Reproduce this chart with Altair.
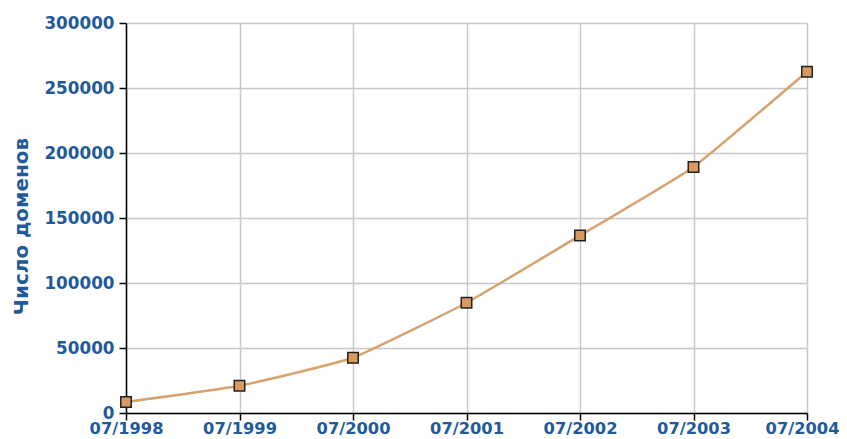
import altair as alt
import pandas as pd

periods = ["07/1998", "07/1999", "07/2000", "07/2001", "07/2002", "07/2003", "07/2004"]
domains = [8500, 21000, 42500, 84800, 136500, 189300, 262500]

df = pd.DataFrame({"period": periods, "domains": domains})

blue = "#1f5a9a"
font = "DejaVu Sans"

x = alt.X("period:O", sort=periods, title=None,
          scale=alt.Scale(type="point", padding=0),
          axis=alt.Axis(labelAngle=0, labelFont=font, labelFontSize=16.3, labelFontWeight="bold",
                        labelColor=blue, domainColor="#000000", domainWidth=1.5,
                        labelAlign={"expr": "datum.index == 1 ? 'right' : 'center'"},
                        labelOffset={"expr": "datum.index == 1 ? 32 : 0"},
                        tickColor="#000000", tickSize=7, tickWidth=1.5, labelPadding=0,
                        gridColor="#c8c8c8", gridWidth=1.5, grid=True))
y = alt.Y("domains:Q", title="Число доменов",
          scale=alt.Scale(domain=[0, 300000], nice=False),
          axis=alt.Axis(values=[0, 50000, 100000, 150000, 200000, 250000, 300000], format="d",
                        labelFont=font, labelFontSize=16.8, labelFontWeight="bold", labelColor=blue,
                        titleFont=font, titleFontSize=20, titleFontWeight="bold", titleColor=blue,
                        titlePadding=12, titleY=203,
                        domainColor="#000000", domainWidth=1.5, tickColor="#000000", tickSize=7,
                        tickWidth=1.5, labelPadding=5, gridColor="#c8c8c8", gridWidth=1.5))

line = alt.Chart(df).mark_line(color="#d6a26e", strokeWidth=2.5, interpolate="cardinal",
                               tension=0.6).encode(x=x, y=y)
pts = alt.Chart(df).mark_point(shape="square", size=110, filled=True, fill="#d89a5e",
                               stroke="#222222", strokeWidth=1.5, opacity=1).encode(x=x, y=y)

chart = (line + pts).properties(
    width=681, height=390,
    autosize=alt.AutoSizeParams(type="none"),
    padding={"left": 118, "top": 15, "right": 32, "bottom": 23},
).configure_view(stroke=None)

chart.save("out.html", embed_options={"renderer": "svg", "actions": False})
